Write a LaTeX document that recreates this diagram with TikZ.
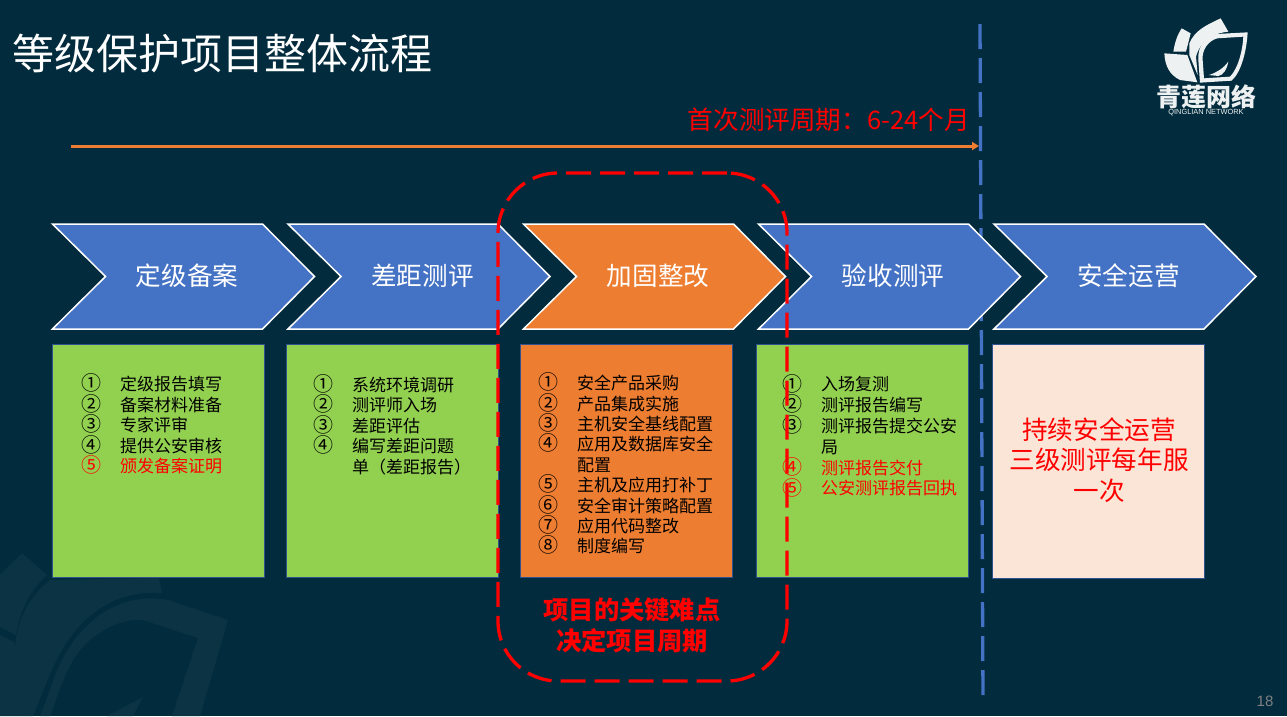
\documentclass[tikz,border=0pt]{standalone}
\usepackage{fontspec}
\setmainfont{Noto Sans CJK SC}
\newfontfamily\latinfont{Liberation Sans}
\usetikzlibrary{arrows.meta}
\definecolor{bgc}{HTML}{022C3D}
\definecolor{wmc}{HTML}{0B3343}
\definecolor{chevblue}{HTML}{4472C4}
\definecolor{chevorange}{HTML}{ED7D31}
\definecolor{cellgreen}{HTML}{92D050}
\definecolor{cellpeach}{HTML}{FBE5D6}
\definecolor{cellline}{HTML}{2F528F}
\definecolor{logowhite}{HTML}{EEF1F2}
\tikzset{
  x=1pt,y=-1pt,
  chev/.style={draw=white,line width=1.5pt,line join=miter},
  chevtext/.style={text=white,font=\fontsize{25.6}{30}\selectfont,inner sep=0pt},
  cellbox/.style={draw=cellline,line width=1pt},
  listtext/.style={anchor=north west,inner sep=0pt,align=left,text=black,font=\fontsize{17}{20.5}\selectfont},
  listnum/.style={anchor=north west,inner sep=0pt,align=left,text=black,font=\fontsize{20}{20.5}\selectfont},
  wm/.style={fill=wmc,draw=none},
  logo/.style={fill=logowhite,draw=none},
}
\newcommand{\chevron}[4]{%
  \path[chev,fill=#4] (#1,224) -- (#1+210,224) -- (#1+262,276.5) -- (#1+210,329) -- (#1,329) -- (#1+53,276.5) -- cycle;
  \node[chevtext] (#2) at (#1+134.5,276) {#3};
}
\begin{document}
\begin{tikzpicture}
\useasboundingbox (0,0) rectangle (1287,716);
\fill[bgc] (0,0) rectangle (1287,716);
% watermark
\begin{scope}
  \clip (0,0) rectangle (1287,716);
  \path[wm] (0,575) -- (22,553) -- (47,575) .. controls (30,590) and (20,610) .. (16,635) -- (0,627) -- cycle;
  \path[wm] (50,580) -- (159,578) -- (162,593) .. controls (120,590) and (85,610) .. (62,650) .. controls (50,670) and (42,695) .. (33,716) -- (27,716) -- (15,660) .. controls (13,630) and (25,600) .. (50,580) -- cycle;
  \path[wm] (0,635) -- (14,642) -- (27,716) -- (0,716) -- cycle;
  \path[wm] (228,620) -- (168,600) .. controls (125,592) and (85,615) .. (62,660) .. controls (52,680) and (47,700) .. (40,716) -- (50,716) .. controls (60,690) and (68,655) .. (95,636) .. controls (120,618) and (140,617) .. (155,624) -- (198,638) -- (172,716) -- (200,716) -- cycle;
  \path[wm] (107,716) -- (143,697) -- (133,716) -- cycle;
\end{scope}
% title
\node[anchor=west,inner sep=0pt,text=white,font=\fontsize{42}{50}\selectfont] (title) at (12,53) {等级保护项目整体流程};
% logo
\begin{scope}[shift={(1100,0)},x=0.3333pt,y=-0.3333pt]
  \path[logo] (193,160) -- (262,165) -- (292,247) -- (240,240) .. controls (210,225) and (195,200) .. (193,160) -- cycle;
  \path[logo] (245,85) -- (272,100) -- (258,155) -- (220,155) .. controls (225,125) and (232,105) .. (245,85) -- cycle;
  \path[logo] (362,55) -- (385,95) .. controls (335,100) and (300,125) .. (288,170) -- (293,225) -- (268,165) -- (268,130) .. controls (285,90) and (320,75) .. (362,55) -- cycle;
  \path[logo,even odd rule] (443,97) -- (350,102) .. controls (315,110) and (292,140) .. (295,180) -- (300,248) -- (395,242) .. controls (425,215) and (440,150) .. (443,97) -- cycle
     (430,110) -- (352,115) .. controls (325,122) and (305,150) .. (308,180) -- (312,235) -- (390,230) .. controls (415,205) and (428,150) .. (430,110) -- cycle;
  \path[logo] (327,225) .. controls (350,218) and (370,205) .. (385,185) .. controls (380,210) and (370,225) .. (355,228) -- cycle;
\end{scope}
\node[inner sep=0pt,text=logowhite,font=\fontsize{25}{28}\bfseries\selectfont] (logoname) at (1206,97) {青莲网络};
\node[inner sep=0pt,text=logowhite,font=\latinfont\fontsize{7.4}{8}\selectfont] (logosub) at (1206,112.5) {QINGLIAN NETWORK};
% cycle label and arrow
\node[anchor=east,inner sep=0pt,text=red,font=\fontsize{25.6}{30}\selectfont] (cycle) at (970,120) {首次测评周期：6-24个月};
\coordinate (arrowstart) at (71,146);
\coordinate (arrowend) at (979,146);
\draw[chevorange,line width=3pt,-{Triangle[length=7pt,width=8pt]}] (arrowstart) -- (arrowend);
% blue divider
\coordinate (divtop) at (980,24);
\coordinate (divbot) at (983,702);
\draw[chevblue,line width=3.3pt,dash pattern=on 25pt off 9pt] (divtop) -- (divbot);
% chevrons
\chevron{52.5}{c1}{定级备案}{chevblue}
\chevron{288}{c2}{差距测评}{chevblue}
\chevron{758.5}{c4}{验收测评}{chevblue}
\chevron{994}{c5}{安全运营}{chevblue}
\chevron{523.5}{c3}{加固整改}{chevorange}
% cells
\path[cellbox,fill=cellgreen] (52.5,344.5) rectangle (264.5,577.5);
\path[cellbox,fill=cellgreen] (286.5,344.5) rectangle (498.5,577.5);
\path[cellbox,fill=chevorange] (520.5,344.5) rectangle (732.5,577.5);
\path[cellbox,fill=cellgreen] (756.5,344.5) rectangle (968.5,577.5);
\path[cellbox,fill=cellpeach] (992.5,344.5) rectangle (1204.5,578);
% cell 1
\node[listnum] (n1) at (81,373.5) {①\\②\\③\\④\\\textcolor{red}{⑤}};
\node[listtext] (t1) at (120,376) {定级报告填写\\备案材料准备\\专家评审\\提供公安审核\\\textcolor{red}{颁发备案证明}};
% cell 2
\node[listnum] (n2) at (313,374) {①\\②\\③\\④};
\node[listtext] (t2) at (352,376.5) {系统环境调研\\测评师入场\\差距评估\\编写差距问题\\单（差距报告）};
% cell 3
\node[listnum,font=\fontsize{20}{20.4}\selectfont] (n3) at (538,372.5) {①\\②\\③\\④\\\mbox{}\\⑤\\⑥\\⑦\\⑧};
\node[listtext,font=\fontsize{17}{20.4}\selectfont] (t3) at (577,375) {安全产品采购\\产品集成实施\\主机安全基线配置\\应用及数据库安全\\配置\\主机及应用打补丁\\安全审计策略配置\\应用代码整改\\制度编写};
% cell 4
\node[listnum,font=\fontsize{20}{20.8}\selectfont] (n4) at (782,374) {①\\②\\③\\\mbox{}\\\textcolor{red}{④}\\\textcolor{red}{⑤}};
\node[listtext,font=\fontsize{17}{20.8}\selectfont] (t4) at (821,376.5) {入场复测\\测评报告编写\\测评报告提交公安\\局\\\textcolor{red}{测评报告交付}\\\textcolor{red}{公安测评报告回执}};
% cell 5
\node[inner sep=0pt,align=center,text=red,font=\fontsize{25.6}{30.6}\selectfont] (t5) at (1099,460) {持续安全运营\\三级测评每年服\\一次};
% key note
\node[inner sep=0pt,align=center,text=red,font=\fontsize{25.3}{31}\bfseries\selectfont] (note) at (632,625) {项目的关键难点\\决定项目周期};
% red dashed rounded frame
\node[draw=red,line width=3.3pt,dash pattern=on 25pt off 9pt,rounded corners=60pt,minimum width=289pt,minimum height=508pt,inner sep=0pt] (frame) at (642.5,427) {};
% page number
\node[inner sep=0pt,text=gray,font=\latinfont\fontsize{15}{18}\selectfont] (page) at (1265,701) {18};
\end{tikzpicture}
\end{document}
